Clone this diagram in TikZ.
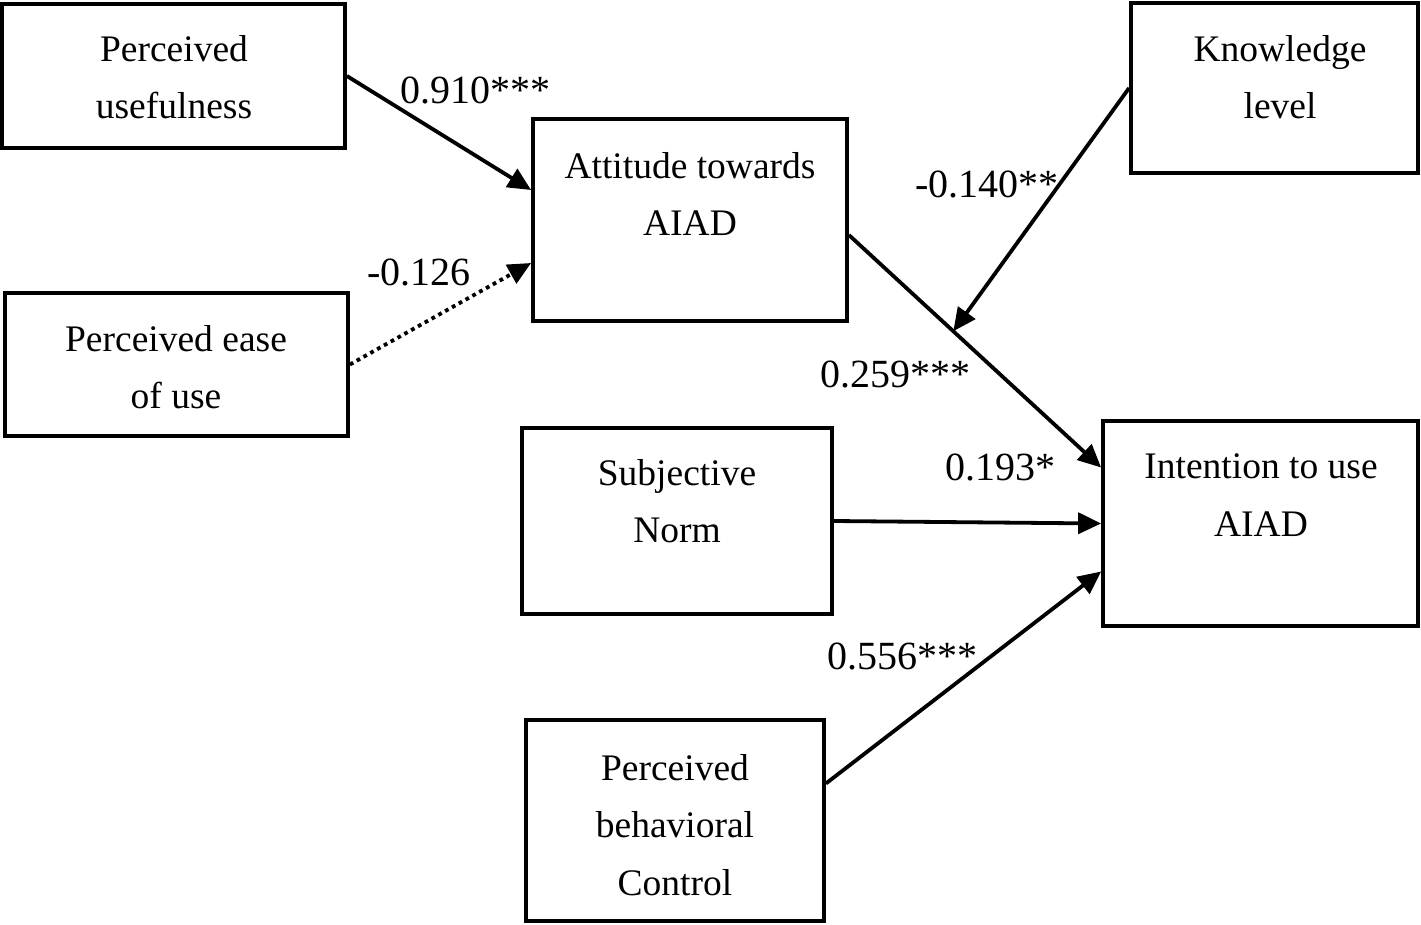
\documentclass[tikz,border=0pt]{standalone}
\usepackage{fontspec}
\setmainfont{Liberation Serif}
\usetikzlibrary{arrows.meta,calc}
\begin{document}
\begin{tikzpicture}[x=1pt,y=-1pt,
  box/.style={draw,line width=3.8pt,inner sep=0pt},
  lbl/.style={inner sep=0pt,align=center,font=\fontsize{37.5}{57.5}\selectfont},
  coef/.style={inner sep=0pt,font=\fontsize{40}{48}\selectfont},
  arr/.style={line width=3.8pt,-{Triangle[length=23pt,width=21pt]}},
  dotarr/.style={line width=3.8pt,dash pattern=on 3.8pt off 4pt,-{Triangle[length=23pt,width=21pt]}}]
\useasboundingbox (0,0) rectangle (1421,925);
% boxes
\node[box,minimum width=343pt,minimum height=144pt] (pu) at (173.5,76) {};
\node[box,minimum width=343pt,minimum height=143pt] (peou) at (176.5,364.5) {};
\node[box,minimum width=314pt,minimum height=202pt] (att) at (690,220) {};
\node[box,minimum width=287pt,minimum height=170pt] (kl) at (1274.5,88) {};
\node[box,minimum width=310pt,minimum height=186pt] (sn) at (677,521) {};
\node[box,minimum width=315pt,minimum height=205pt] (int) at (1260.5,523.5) {};
\node[box,minimum width=298pt,minimum height=201pt] (pbc) at (675,820.5) {};
% texts
\node[lbl] (tpu) at (174,77) {Perceived\\usefulness};
\node[lbl] (tpeou) at (176,367) {Perceived ease\\of use};
\node[lbl] (tatt) at (690,194) {Attitude towards\\AIAD};
\node[lbl] (tkl) at (1280,77) {Knowledge\\level};
\node[lbl] (tsn) at (677,501) {Subjective\\Norm};
\node[lbl] (tint) at (1261,495) {Intention to use\\AIAD};
\node[lbl] (tpbc) at (675,825) {Perceived\\behavioral\\Control};
% connector end points
\coordinate (aS) at ([yshift=-15pt]att.east);
\coordinate (aE) at ([yshift=56pt]int.west);
\coordinate (m) at ($(aS)!0.414!(aE)$);
% connectors
\draw[arr] (pu.east) -- ([yshift=30pt]att.west);
\draw[dotarr] (peou.east) -- ([yshift=-43pt]att.west);
\draw[arr] (aS) -- (aE);
\draw[arr] (kl.west) -- (m);
\draw[arr] (sn.east) -- (int.west);
\draw[arr] ([yshift=37pt]pbc.east) -- ([yshift=-48pt]int.west);
% coefficients
\node[coef] (c1) at (475,90) {0.910***};
\node[coef] (c2) at (419,272) {-0.126};
\node[coef] (c3) at (987,184) {-0.140**};
\node[coef] (c4) at (895,374) {0.259***};
\node[coef] (c5) at (1000,467) {0.193*};
\node[coef] (c6) at (902,656) {0.556***};
\end{tikzpicture}
\end{document}
